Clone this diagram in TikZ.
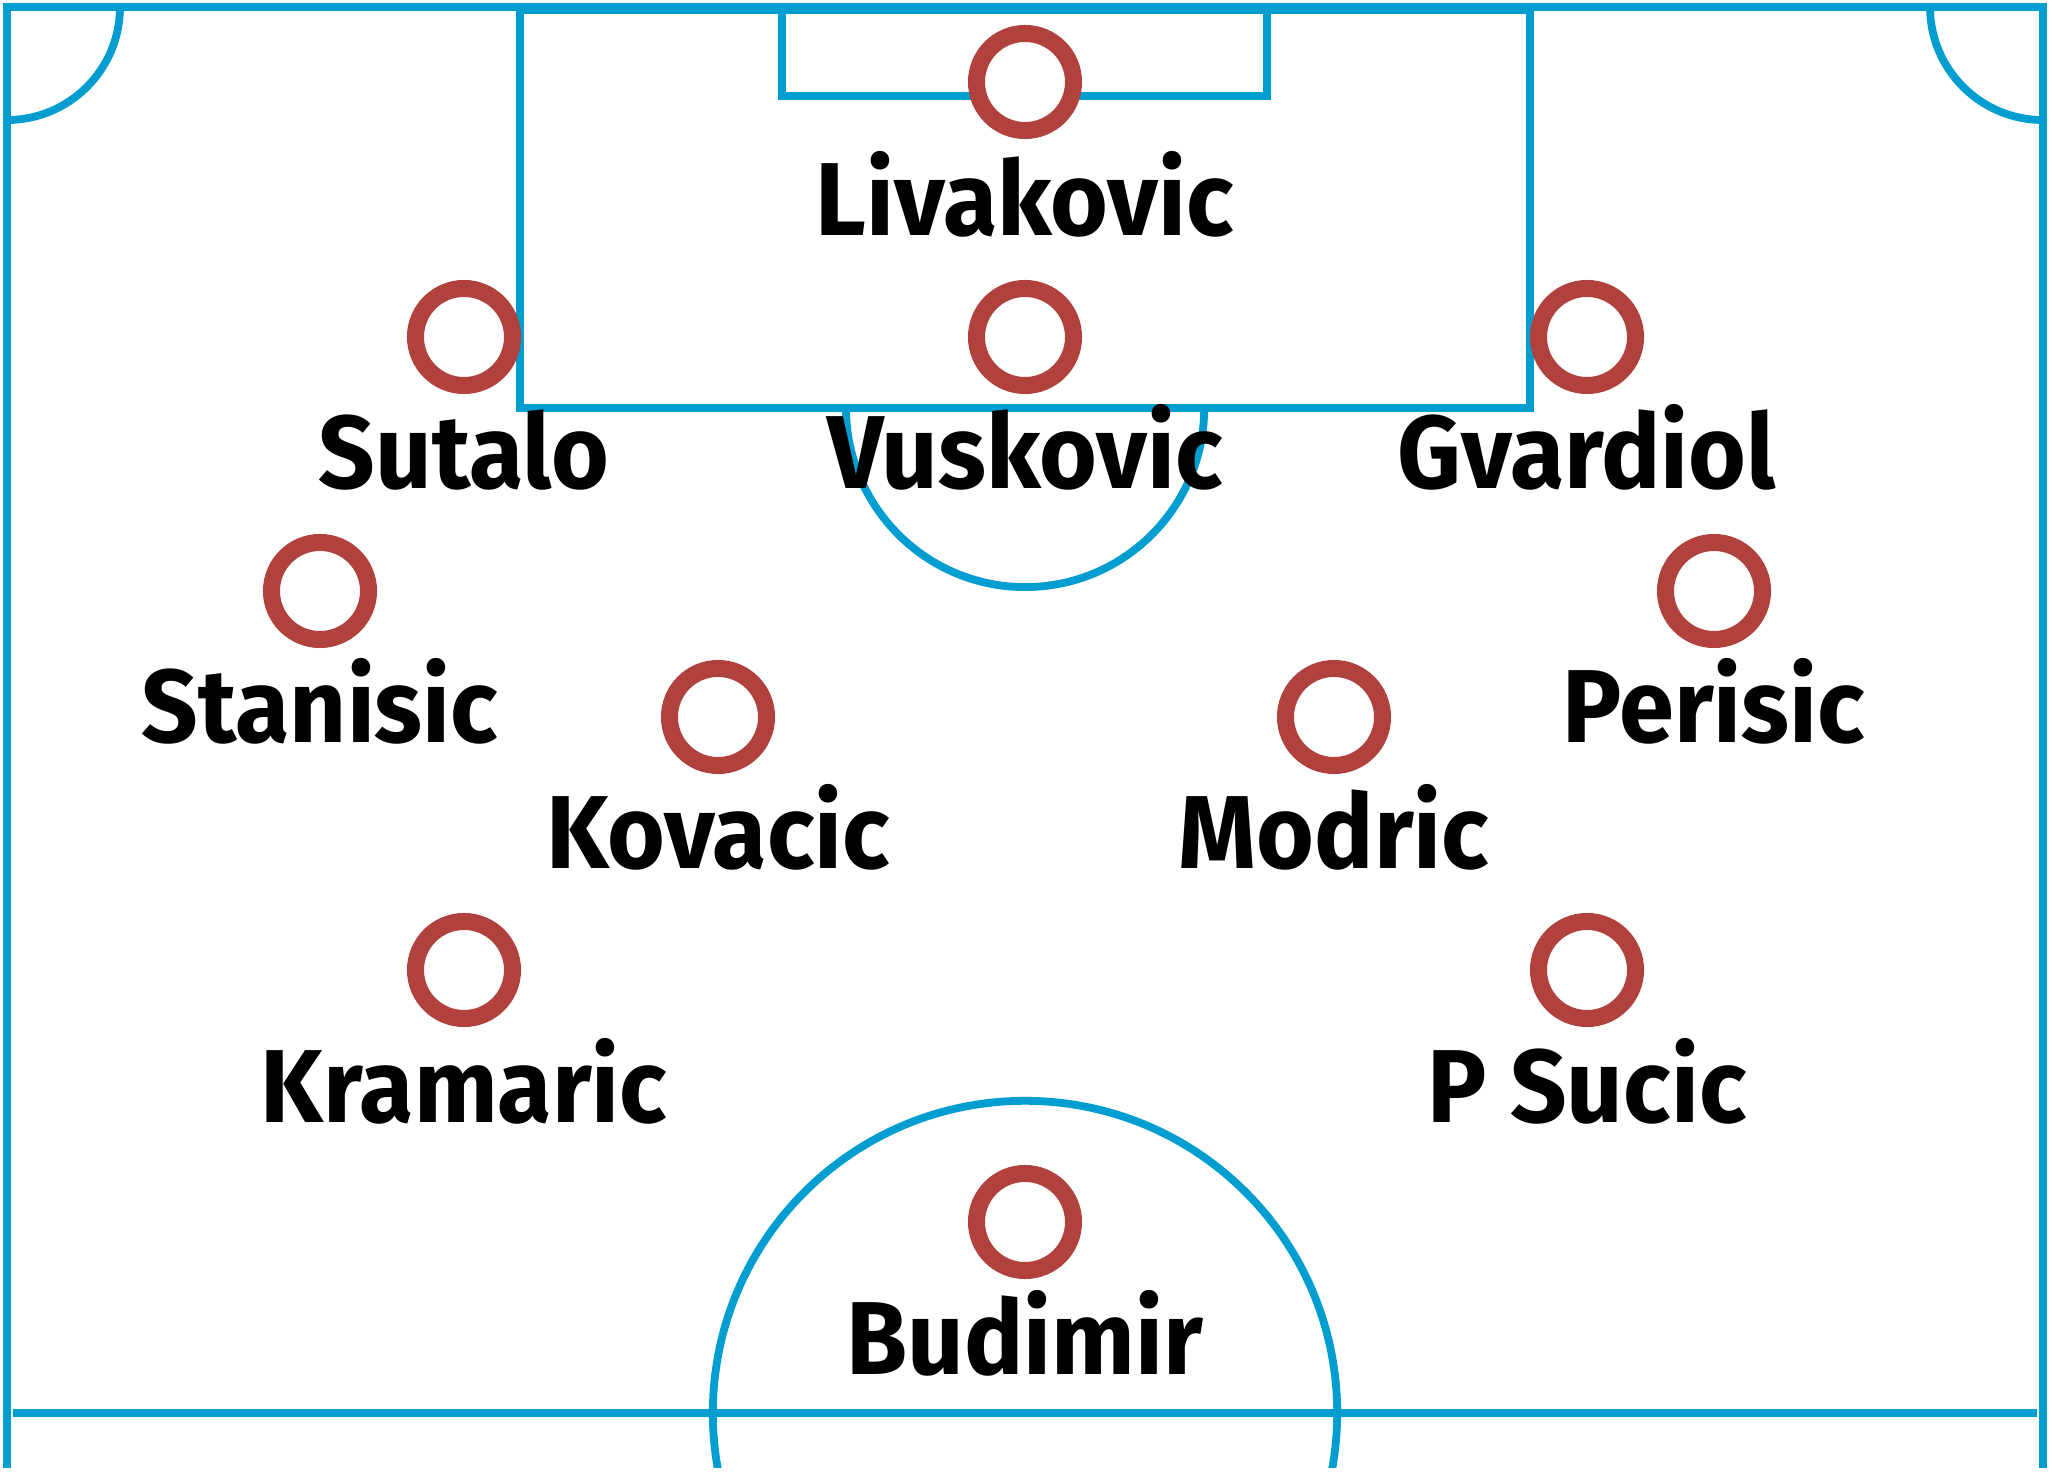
\documentclass[tikz,border=0pt]{standalone}
\usepackage{fontspec}
\newfontfamily\namefont[FakeStretch=0.955]{Fira Sans}
\definecolor{pitch}{RGB}{0,158,208}
\definecolor{pred}{RGB}{176,65,60}
\begin{document}
\begin{tikzpicture}[x=0.01cm,y=-0.01cm,
  pline/.style={draw=pitch,line width=0.078cm},
  player/.style={circle,draw=pred,fill=white,line width=0.17cm,minimum size=0.97cm,inner sep=0pt},
  pname/.style={anchor=base,inner sep=0pt,font=\namefont\bfseries\fontsize{29.5}{34}\selectfont,text=black}]
\useasboundingbox (0,0) rectangle (2052,1480);
\fill[white] (0,0) rectangle (2052,1480);
\begin{scope}
  \clip (0,0) rectangle (2052,1467);
  \draw[pline,line join=miter] (7,1480) -- (7,7) -- (2043,7) -- (2043,1480);
  \draw[pline] (120,7) arc[start angle=0,end angle=-90,radius=1.13cm];
  \draw[pline] (1930,7) arc[start angle=180,end angle=270,radius=1.13cm];
  \draw[pline] (520,10) rectangle (1530,408);
  \draw[pline] (782,10) rectangle (1267,96);
  \draw[pline] (846,408) arc[start angle=180,end angle=360,radius=1.79cm];
  \draw[pline] (13,1413) -- (2037,1413);
  \draw[pline] (1025,1413) circle[radius=3.12cm];
\end{scope}
% players
\node[player] (liv) at (1025,82) {};
\node[player] (vus) at (1025,337) {};
\node[player] (sut) at (464,337) {};
\node[player] (gva) at (1587,337) {};
\node[player] (sta) at (320,591) {};
\node[player] (per) at (1714,591) {};
\node[player] (kov) at (718,717) {};
\node[player] (mod) at (1334,717) {};
\node[player] (kra) at (464,970) {};
\node[player] (psu) at (1587,970) {};
\node[player] (bud) at (1025,1222) {};
% names
\node[pname] (livl) at (1025,236) {Livakovic};
\node[pname] (vusl) at (1025,489) {Vuskovic};
\node[pname] (sutl) at (464,489) {Sutalo};
\node[pname] (gval) at (1587,489) {Gvardiol};
\node[pname] (stal) at (320,743) {Stanisic};
\node[pname] (perl) at (1714,743) {Perisic};
\node[pname] (kovl) at (718,869) {Kovacic};
\node[pname] (modl) at (1334,869) {Modric};
\node[pname] (kral) at (464,1122) {Kramaric};
\node[pname] (psul) at (1587,1122) {P Sucic};
\node[pname] (budl) at (1025,1374) {Budimir};
\end{tikzpicture}
\end{document}
